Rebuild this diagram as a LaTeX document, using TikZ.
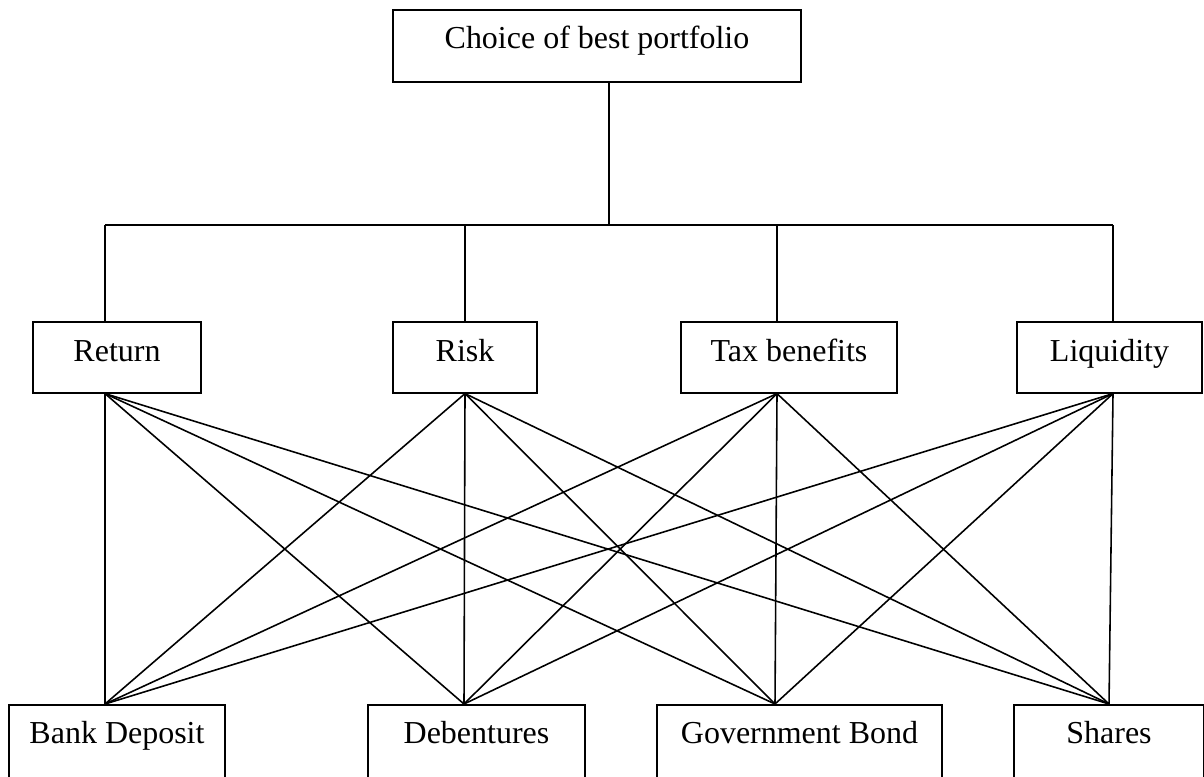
\documentclass[tikz,border=0pt]{standalone}
\usepackage{fontspec}
\setmainfont{Liberation Serif}
\usepackage{tikz}

\tikzset{
  box/.style={draw, line width=0.45pt, anchor=north, inner sep=0pt,
    font=\fontsize{9.1}{11}\selectfont, text height=0.4cm, text depth=0.31cm},
  asset/.style={box, text height=0.39cm, text depth=0.8cm},
  link/.style={line width=0.45pt}
}

\begin{document}
\begin{tikzpicture}
\useasboundingbox (0,0) rectangle (12.04,-7.76);
\clip (0,0) rectangle (12.04,-7.76);

\node[box, minimum width=4.08cm, text height=0.39cm, text depth=0.33cm] (top) at (5.97,-0.09) {Choice of best portfolio};

% criteria
\node[box, minimum width=1.68cm] (ret) at (1.17,-3.21) {Return};
\node[box, minimum width=1.44cm] (risk) at (4.65,-3.21) {Risk};
\node[box, minimum width=2.16cm] (tax) at (7.89,-3.21) {Tax benefits};
\node[box, minimum width=1.85cm] (liq) at (11.095,-3.21) {Liquidity};

% alternatives
\node[asset, minimum width=2.16cm] (bank) at (1.17,-7.04) {Bank Deposit};
\node[asset, minimum width=2.17cm] (deb) at (4.765,-7.04) {Debentures};
\node[asset, minimum width=2.85cm] (gov) at (7.995,-7.04) {Government Bond};
\node[asset, minimum width=1.90cm] (shr) at (11.09,-7.04) {Shares};

\coordinate (hub) at (6.09,-2.25);
\foreach \n/\x in {ret/1.05,risk/4.65,tax/7.77,liq/11.13}
  \coordinate (\n-x) at (\x,-2.25);
\foreach \n/\x in {bank/1.05,deb/4.64,gov/7.75,shr/11.09}
  \coordinate (\n-x) at (\x,-7.04);

\draw[link] (top.south -| hub) -- (hub);
\draw[link] (ret-x) -- (liq-x);
\foreach \n in {ret,risk,tax,liq}
  \draw[link] (\n-x) -- (\n-x |- \n.north);

\foreach \a in {ret,risk,tax,liq}
  \foreach \b in {bank,deb,gov,shr}
    \draw[link] (\a-x |- \a.south) -- (\b-x);
\end{tikzpicture}
\end{document}
